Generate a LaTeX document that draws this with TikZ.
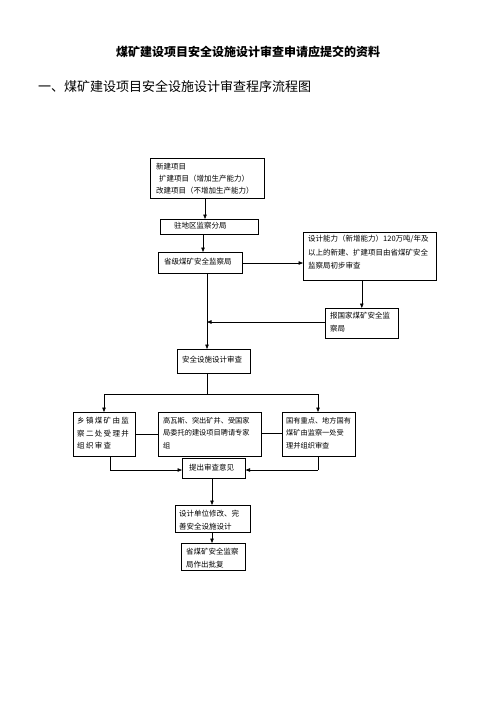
\documentclass[tikz,border=0pt]{standalone}
\usepackage{fontspec}
\setmainfont{Noto Sans CJK SC}
\newfontfamily\spacedfont[LetterSpace=18]{Noto Sans CJK SC}
\usetikzlibrary{arrows.meta,calc}
\tikzset{
  box/.style={draw, line width=0.6pt, anchor=north west, inner sep=0pt},
  arr/.style={line width=0.6pt, -{Triangle[length=4.5pt,width=3.5pt]}},
  ln/.style={line width=0.6pt},
  txt/.style={anchor=north west, inner sep=0pt, align=left, font=\fontsize{7.5}{12}\selectfont}
}
\newcommand{\bx}[5]{% name, x1, y1, x2, y2
  \node[box, minimum width={(#4-#2)*1pt}, minimum height={(#5-#3)*1pt}] (#1) at (#2,#3) {};
}
\begin{document}
\begin{tikzpicture}[x=1pt,y=-1pt]
\fill[white] (0,0) rectangle (496,702);
\useasboundingbox (0,0) rectangle (496,702);

\node[font=\fontsize{12}{14}\selectfont\bfseries, anchor=center] (title) at (248,52) {煤矿建设项目安全设施设计审查申请应提交的资料};
\node[font=\fontsize{13}{15}\selectfont, anchor=west, inner sep=0pt] (head) at (38,87) {一、煤矿建设项目安全设施设计审查程序流程图};

% boxes
\bx{b1}{150}{158}{264}{198}
\bx{b2}{160}{219}{258}{234}
\bx{b3}{158}{252}{242}{273}
\bx{b4}{303}{232}{436}{280}
\bx{b5}{325}{308}{398}{338}
\bx{b6}{177}{349}{250}{373}
\bx{b7}{73}{412}{135}{456}
\bx{b8}{158}{412}{261}{456}
\bx{b9}{282}{412}{355}{456}
\bx{b10}{182}{458}{245}{478}
\bx{b11}{175}{505}{250}{532}
\bx{b12}{181}{543}{245}{570}

% texts
\node[txt] (t1) at (156,163) {新建项目\\\hspace{3pt}扩建项目（增加生产能力）\\改建项目（不增加生产能力）};
\node[txt] (t2) at (174,222) {驻地区监察分局};
\node[txt] (t3) at (164,258) {省级煤矿安全监察局};
\node[txt, font=\fontsize{7.5}{13.5}\selectfont] (t4) at (308,235) {设计能力（新增能力）120万吨/年及\\以上的新建、扩建项目由省煤矿安全\\监察局初步审查};
\node[txt, font=\fontsize{7.5}{13}\selectfont] (t5) at (330,312) {报国家煤矿安全监\\察局};
\node[txt] (t6) at (182,356) {安全设施设计审查};
\node[txt, font=\spacedfont\fontsize{7.5}{12.5}\selectfont] (t7) at (77,417) {乡镇煤矿由监\\察二处受理并\\组织审查};
\node[txt, font=\fontsize{7.2}{12.5}\selectfont] (t8) at (163,417) {高瓦斯、突出矿井、受国家\\局委托的建设项目聘请专家\\组};
\node[txt, font=\fontsize{7.2}{12.5}\selectfont] (t9) at (286,417) {国有重点、地方国有\\煤矿由监察一处受\\理并组织审查};
\node[txt] (t10) at (189,464) {提出审查意见};
\node[txt, font=\fontsize{7.5}{13}\selectfont] (t11) at (179,510) {设计单位修改、完\\善安全设施设计};
\node[txt, font=\fontsize{7.5}{13}\selectfont] (t12) at (186,548) {省煤矿安全监察\\局作出批复};

% coordinates
\coordinate (cA) at (207,322);
\coordinate (cB) at (207,394);
\coordinate (cL) at (104,394);
\coordinate (cR) at (318,394);
\coordinate (cL2) at (110,470);
\coordinate (cR2) at (318,470);

% connectors
\draw[arr] (b1.south -| 205,0) -- (b2.north -| 205,0);
\draw[arr] (b2.south -| 203,0) -- (b3.north -| 203,0);
\draw[arr] (b3.east |- 0,263) -- (b4.west |- 0,263);
\draw[arr] (b4.south -| b5.north) -- (b5.north);
\draw[arr] (b5.west |- cA) -- (cA);
\draw[arr] (b3.south -| cA) -- (b6.north -| cA);
\draw[ln] (b6.south -| cB) -- (cB);
\draw[ln] (cL) -- (cR);
\draw[arr] (cL) -- (b7.north -| cL);
\draw[arr] (cR) -- (b9.north -| cR);
\draw[ln] (b7.east |- 0,434) -- (b8.west |- 0,434);
\draw[ln] (b8.east |- 0,433) -- (b9.west |- 0,433);
\draw[ln] (b7.south -| cL2) -- (cL2);
\draw[arr] (cL2) -- (b10.west |- cL2);
\draw[ln] (b9.south -| cR2) -- (cR2);
\draw[arr] (cR2) -- (b10.east |- cR2);
\draw[arr] (b10.south -| 212,0) -- (b11.north -| 212,0);
\draw[arr] (b11.south -| 212,0) -- (b12.north -| 212,0);
\end{tikzpicture}
\end{document}
